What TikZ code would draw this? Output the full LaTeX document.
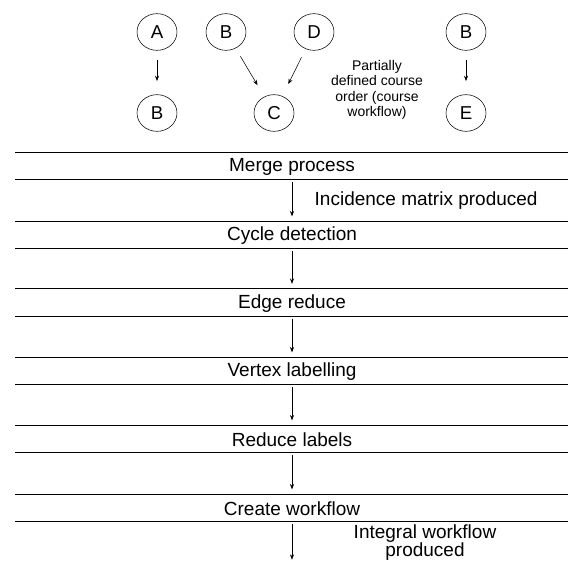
\documentclass[tikz,border=0pt]{standalone}
\usepackage{fontspec}
\setmainfont{Liberation Sans}
\usetikzlibrary{arrows.meta,shapes.geometric}

\begin{document}
\begin{tikzpicture}[x=0.75pt,y=-0.75pt,
    font=\fontsize{14.25}{16}\selectfont]
\useasboundingbox (0,0) rectangle (568,561);

% course order examples
\begin{scope}[every node/.style={ellipse,draw,inner sep=0pt,
              minimum width=30pt,minimum height=27.5pt,
              font=\fontsize{14}{16}\selectfont}]
    \node (a)  at (157,32)  {A};
    \node (b1) at (226,32)  {B};
    \node (d)  at (314,32)  {D};
    \node (b2) at (466,32)  {B};
    \node (b3) at (157,113) {B};
    \node (c)  at (274,113) {C};
    \node (e)  at (466,113) {E};
\end{scope}

\begin{scope}[>={Stealth[length=4pt,width=3pt]},
              every edge/.style={draw,shorten <=7pt,shorten >=10pt}]
    \path [->] (a) edge (b3);
    \path [->] (b1) edge (c);
    \path [->] (d) edge (c);
    \path [->] (b2) edge (e);
\end{scope}

\node[align=center,font=\fontsize{10.5}{11.5}\selectfont] (note) at (377,90)
    {Partially\\defined course\\order (course\\workflow)};

% process bands
\foreach \name/\txt/\yt in {merge/Merge process/152,
                            cycle/Cycle detection/221,
                            edge/Edge reduce/288.5,
                            vertex/Vertex labelling/357,
                            reduce/Reduce labels/425,
                            create/Create workflow/494}
{
    \draw (15,\yt) -- (568,\yt);
    \draw (15,\yt+27.5) -- (568,\yt+27.5);
    \node (\name) at (292,\yt+15) {\txt};
    \coordinate (\name-top) at (292,\yt);
    \coordinate (\name-bot) at (292,\yt+27.5);
}
\coordinate (end) at (292,561);

\begin{scope}[>={Stealth[length=4pt,width=3pt]},
              every edge/.style={draw,shorten <=2pt,shorten >=3.5pt}]
    \path [->] (merge-bot) edge (cycle-top);
    \path [->] (cycle-bot) edge (edge-top);
    \path [->] (edge-bot) edge (vertex-top);
    \path [->] (vertex-bot) edge (reduce-top);
    \path [->] (reduce-bot) edge (create-top);
    \path [->] (create-bot) edge[shorten >=1pt] (end);
\end{scope}

\node[anchor=west] (incid) at (310,201) {Incidence matrix produced};
\node[align=center,font=\fontsize{14.25}{13.5}\selectfont] (integ) at (425,542.5)
    {Integral workflow\\produced};
\end{tikzpicture}
\end{document}
